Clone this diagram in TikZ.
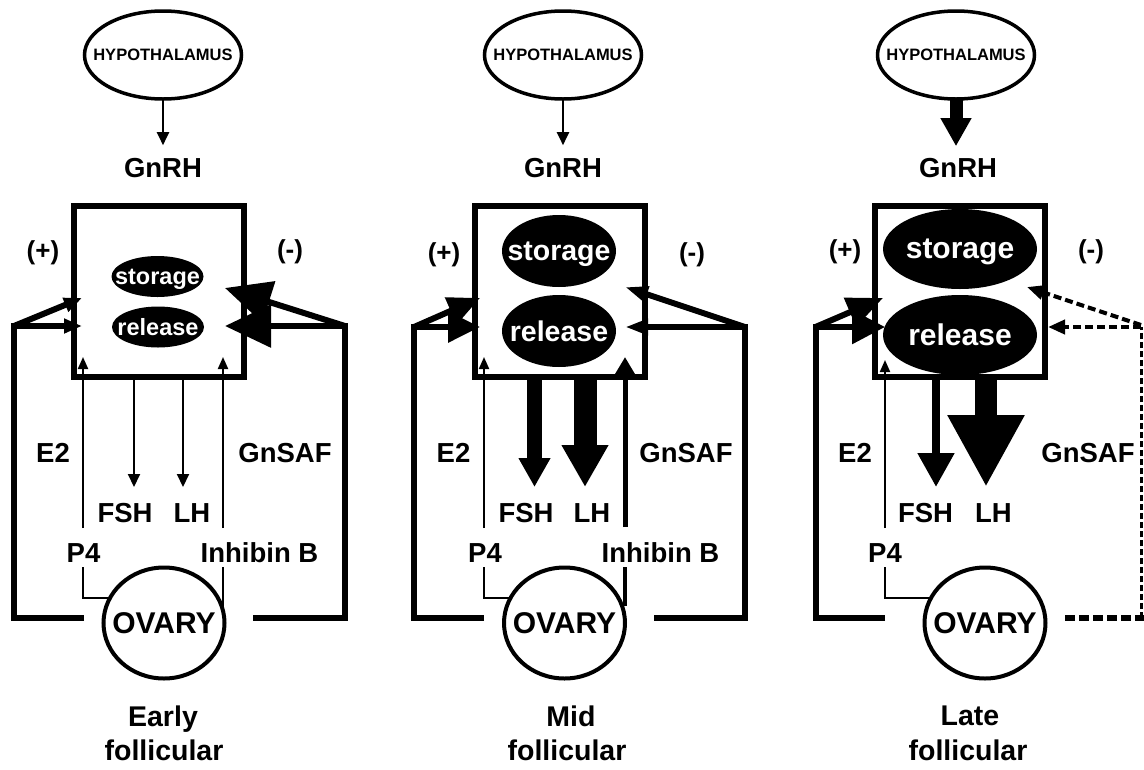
\documentclass[tikz,border=0pt]{standalone}
\usepackage{fontspec}
\setmainfont{Liberation Sans}
\usetikzlibrary{arrows.meta,shapes.geometric}
\newcommand{\fsz}[1]{\fontsize{#1pt}{#1pt}\selectfont}
\tikzset{
  lbl/.style={font=\fsz{27.5}\bfseries, inner sep=0pt, text depth=0pt},
  pm/.style={font=\fsz{26}\bfseries, inner sep=0pt},
  phase/.style={font=\fsz{28.5}\bfseries, inner sep=0pt, text depth=0pt},
  hyp/.style={ellipse, draw, line width=3.5pt, minimum width=157pt, minimum height=88pt, inner sep=0pt, outer sep=0pt,
    label={[font=\fsz{16.5}\bfseries, inner sep=0pt, text depth=0pt]center:HYPOTHALAMUS}},
  pit/.style={draw, line width=6pt, minimum width=170pt, minimum height=171pt, inner sep=0pt, outer sep=0pt},
  blob/.style={ellipse, fill=black, inner sep=0pt, outer sep=0pt},
  ovary/.style={ellipse, draw, line width=4pt, fill=white, minimum width=121pt, minimum height=111pt, inner sep=0pt, outer sep=0pt,
    label={[font=\fsz{30}\bfseries, inner sep=0pt, text depth=0pt]center:OVARY}},
  fb/.style={line width=6pt, line join=miter},
  thinarr/.style={line width=2pt, -{Triangle[length=13pt,width=12pt]}},
  uparr/.style={line width=2pt, -{Triangle[length=12pt,width=10pt]}},
  conn/.style={line width=2pt},
  dsh/.style={dash pattern=on 8pt off 4pt},
}
\begin{document}
\begin{tikzpicture}[x=1pt,y=-1pt]
\useasboundingbox[fill=white] (0,0) rectangle (1144,769);

%%%%%%%%%%%%%%%% PANEL 1 : Early follicular
\node[hyp] (h1) at (163,55) {};
\node[lbl] (g1) at (163,168) {GnRH};
\draw[thinarr] (h1.south) -- ([yshift=13pt]g1.north);
\node[pit] (b1) at (159,291.5) {};
\node[blob, minimum width=92pt, minimum height=41pt,
  label={[text=white, font=\fsz{23.5}\bfseries, inner sep=0pt, text depth=0pt]center:storage}] (s1) at (157.5,276.5) {};
\node[blob, minimum width=92pt, minimum height=41pt,
  label={[text=white, font=\fsz{23.5}\bfseries, inner sep=0pt, text depth=0pt]center:release}] (r1) at (158,327) {};
\node[pm] (p1) at (43,253) {(+)};
\node[pm] (m1) at (290,252) {(-)};
% left loop
\coordinate (a1) at (84,618); \coordinate (a1b) at (14,618); \coordinate (a1c) at (14,326);
\coordinate (a1t) at (82,326); \coordinate (a1u) at (82,298);
\draw[fb, -{Triangle[length=18pt,width=14pt]}] (a1) -- (a1b) -- (a1c) -- (a1t);
\draw[fb, -{Triangle[length=18pt,width=14pt]}] (a1c) -- (a1u);
% right loop
\coordinate (c1) at (253,618); \coordinate (c1b) at (345,618); \coordinate (c1c) at (345,326);
\coordinate (c1t) at (225,326); \coordinate (c1u) at (225,288);
\draw[fb, -{Triangle[length=46pt,width=42pt]}] (c1) -- (c1b) -- (c1c) -- (c1t);
\draw[fb, -{Triangle[length=46pt,width=42pt]}] (c1c) -- (c1u);
% E2 / GnSAF
\coordinate (e1) at (83,528); \coordinate (e1t) at (83,357);
\coordinate (n1) at (223,528); \coordinate (n1t) at (223,357);
\draw[uparr] (e1) -- (e1t);
\draw[uparr] (n1) -- (n1t);
% FSH LH
\coordinate (f1s) at (134,377); \coordinate (f1t) at (134,487);
\coordinate (l1s) at (183,377); \coordinate (l1t) at (183,487);
\draw[thinarr] (f1s) -- (f1t);
\draw[thinarr] (l1s) -- (l1t);
% P4 / inhibin connectors
\coordinate (q1) at (83,567); \coordinate (q1b) at (83,598);
\coordinate (i1) at (223,567);
\draw[conn] (q1) -- (q1b) -- (120,598);
\draw[conn] (i1) -- (223,606);
\node[ovary] (ov1) at (164,623) {};
\node[lbl] (E2a) at (53,453) {E2};
\node[lbl] (GSa) at (285,453) {GnSAF};
\node[lbl] (FSa) at (125,513) {FSH};
\node[lbl] (LHa) at (192,513) {LH};
\node[lbl] (P4a) at (83.5,553) {P4};
\node[lbl] (IBa) at (259.5,553) {Inhibin B};
\node[phase] (t1a) at (163,716) {Early};
\node[phase] (t1b) at (164,750) {follicular};

%%%%%%%%%%%%%%%% PANEL 2 : Mid follicular
\node[hyp] (h2) at (563,55) {};
\node[lbl] (g2) at (563,168) {GnRH};
\draw[thinarr] (h2.south) -- ([yshift=13pt]g2.north);
\node[pit] (b2) at (559.5,291.5) {};
\node[blob, minimum width=114pt, minimum height=72pt,
  label={[text=white, font=\fsz{28.5}\bfseries, inner sep=0pt, text depth=0pt]center:storage}] (s2) at (559,251) {};
\node[blob, minimum width=114pt, minimum height=72pt,
  label={[text=white, font=\fsz{28.5}\bfseries, inner sep=0pt, text depth=0pt]center:release}] (r2) at (559,331) {};
\node[pm] (p2) at (444,255) {(+)};
\node[pm] (m2) at (692,255) {(-)};
% left loop
\coordinate (a2) at (484,618); \coordinate (a2b) at (414,618); \coordinate (a2c) at (414,327);
\coordinate (a2t) at (480,327); \coordinate (a2u) at (480,298);
\draw[fb, -{Triangle[length=32pt,width=30pt]}] (a2) -- (a2b) -- (a2c) -- (a2t);
\draw[fb, -{Triangle[length=32pt,width=28pt]}] (a2c) -- (a2u);
% right loop
\coordinate (c2) at (654,618); \coordinate (c2b) at (745,618); \coordinate (c2c) at (745,327);
\coordinate (c2t) at (625,327); \coordinate (c2u) at (625,287);
\draw[fb, -{Triangle[length=23pt,width=15pt]}] (c2) -- (c2b) -- (c2c) -- (c2t);
\draw[fb, -{Triangle[length=23pt,width=15pt]}] (c2c) -- (c2u);
% E2 / GnSAF
\coordinate (e2) at (484,528); \coordinate (e2t) at (484,357);
\coordinate (n2) at (625,527); \coordinate (n2t) at (625,357);
\draw[uparr] (e2) -- (e2t);
\draw[line width=5pt, -{Triangle[length=20pt,width=22pt]}] (n2) -- (n2t);
% FSH LH
\coordinate (f2s) at (534.5,377); \coordinate (f2t) at (534.5,487);
\coordinate (l2s) at (585,377); \coordinate (l2t) at (585,487);
\draw[line width=15pt, -{Triangle[length=29pt,width=30pt]}] (f2s) -- (f2t);
\draw[line width=23pt, -{Triangle[length=42pt,width=44pt]}] (l2s) -- (l2t);
% connectors
\coordinate (q2) at (484,567); \coordinate (q2b) at (484,598);
\coordinate (i2) at (625,567);
\draw[conn] (q2) -- (q2b) -- (520,598);
\draw[line width=4pt] (i2) -- (625,606);
\node[ovary] (ov2) at (564.5,623) {};
\node[lbl] (E2b) at (453.5,453) {E2};
\node[lbl] (GSb) at (686,453) {GnSAF};
\node[lbl] (FSb) at (526,513) {FSH};
\node[lbl] (LHb) at (592,513) {LH};
\node[lbl] (P4b) at (485,553) {P4};
\node[lbl] (IBb) at (660.5,553) {Inhibin B};
\node[phase] (t2a) at (571,716) {Mid};
\node[phase] (t2b) at (567,750) {follicular};

%%%%%%%%%%%%%%%% PANEL 3 : Late follicular
\node[hyp] (h3) at (956,55) {};
\node[lbl] (g3) at (958,168) {GnRH};
\draw[line width=13pt, -{Triangle[length=28pt,width=29pt]}] (h3.south) -- ([xshift=-2pt,yshift=12pt]g3.north);
\node[pit] (b3) at (959.5,291.5) {};
\node[blob, minimum width=154pt, minimum height=80pt,
  label={[text=white, font=\fsz{30}\bfseries, inner sep=0pt, text depth=0pt]center:storage}] (s3) at (960,249) {};
\node[blob, minimum width=154pt, minimum height=80pt,
  label={[text=white, font=\fsz{30}\bfseries, inner sep=0pt, text depth=0pt]center:release}] (r3) at (960,335) {};
\node[pm] (p3) at (845,252) {(+)};
\node[pm] (m3) at (1091,252) {(-)};
% left loop
\coordinate (a3) at (885,618); \coordinate (a3b) at (815.5,618); \coordinate (a3c) at (815.5,327);
\coordinate (a3t) at (885,327); \coordinate (a3u) at (883,298);
\draw[fb, -{Triangle[length=33pt,width=33pt]}] (a3) -- (a3b) -- (a3c) -- (a3t);
\draw[fb, -{Triangle[length=36pt,width=30pt]}] (a3c) -- (a3u);
% right dashed loop
\coordinate (c3) at (1065,618); \coordinate (c3b) at (1144,618);
\coordinate (c3v) at (1141,618); \coordinate (c3c) at (1141,327);
\coordinate (c3t) at (1048,327); \coordinate (c3u) at (1027,287);
\draw[line width=6pt, dash pattern=on 10pt off 4pt] (c3) -- (c3b);
\draw[line width=3pt, dash pattern=on 6pt off 3pt] (c3v) -- (c3c);
\draw[line width=4pt, dsh, -{Triangle[length=17pt,width=14pt]}] (c3c) -- (c3t);
\draw[line width=4pt, dsh, -{Triangle[length=17pt,width=14pt]}] ([yshift=2pt]c3c) -- (c3u);
% E2
\coordinate (e3) at (885,528); \coordinate (e3t) at (885,360);
\draw[uparr] (e3) -- (e3t);
% FSH LH
\coordinate (f3s) at (936,377); \coordinate (f3t) at (936,487);
\coordinate (l3s) at (986,377); \coordinate (l3t) at (986,487);
\draw[line width=8pt, -{Triangle[length=34pt,width=35pt]}] (f3s) -- (f3t);
\draw[line width=22pt, -{Triangle[length=72pt,width=72pt]}] (l3s) -- (l3t);
% connector
\coordinate (q3) at (885,567); \coordinate (q3b) at (885,598);
\draw[conn] (q3) -- (q3b) -- (940,598);
\node[ovary] (ov3) at (985,623) {};
\node[lbl] (E2c) at (855,453) {E2};
\node[lbl] (GSc) at (1088,453) {GnSAF};
\node[lbl] (FSc) at (925.5,513) {FSH};
\node[lbl] (LHc) at (993.5,513) {LH};
\node[lbl] (P4c) at (885,553) {P4};
\node[phase] (t3a) at (970,716) {Late};
\node[phase] (t3b) at (968,750) {follicular};
\end{tikzpicture}
\end{document}
